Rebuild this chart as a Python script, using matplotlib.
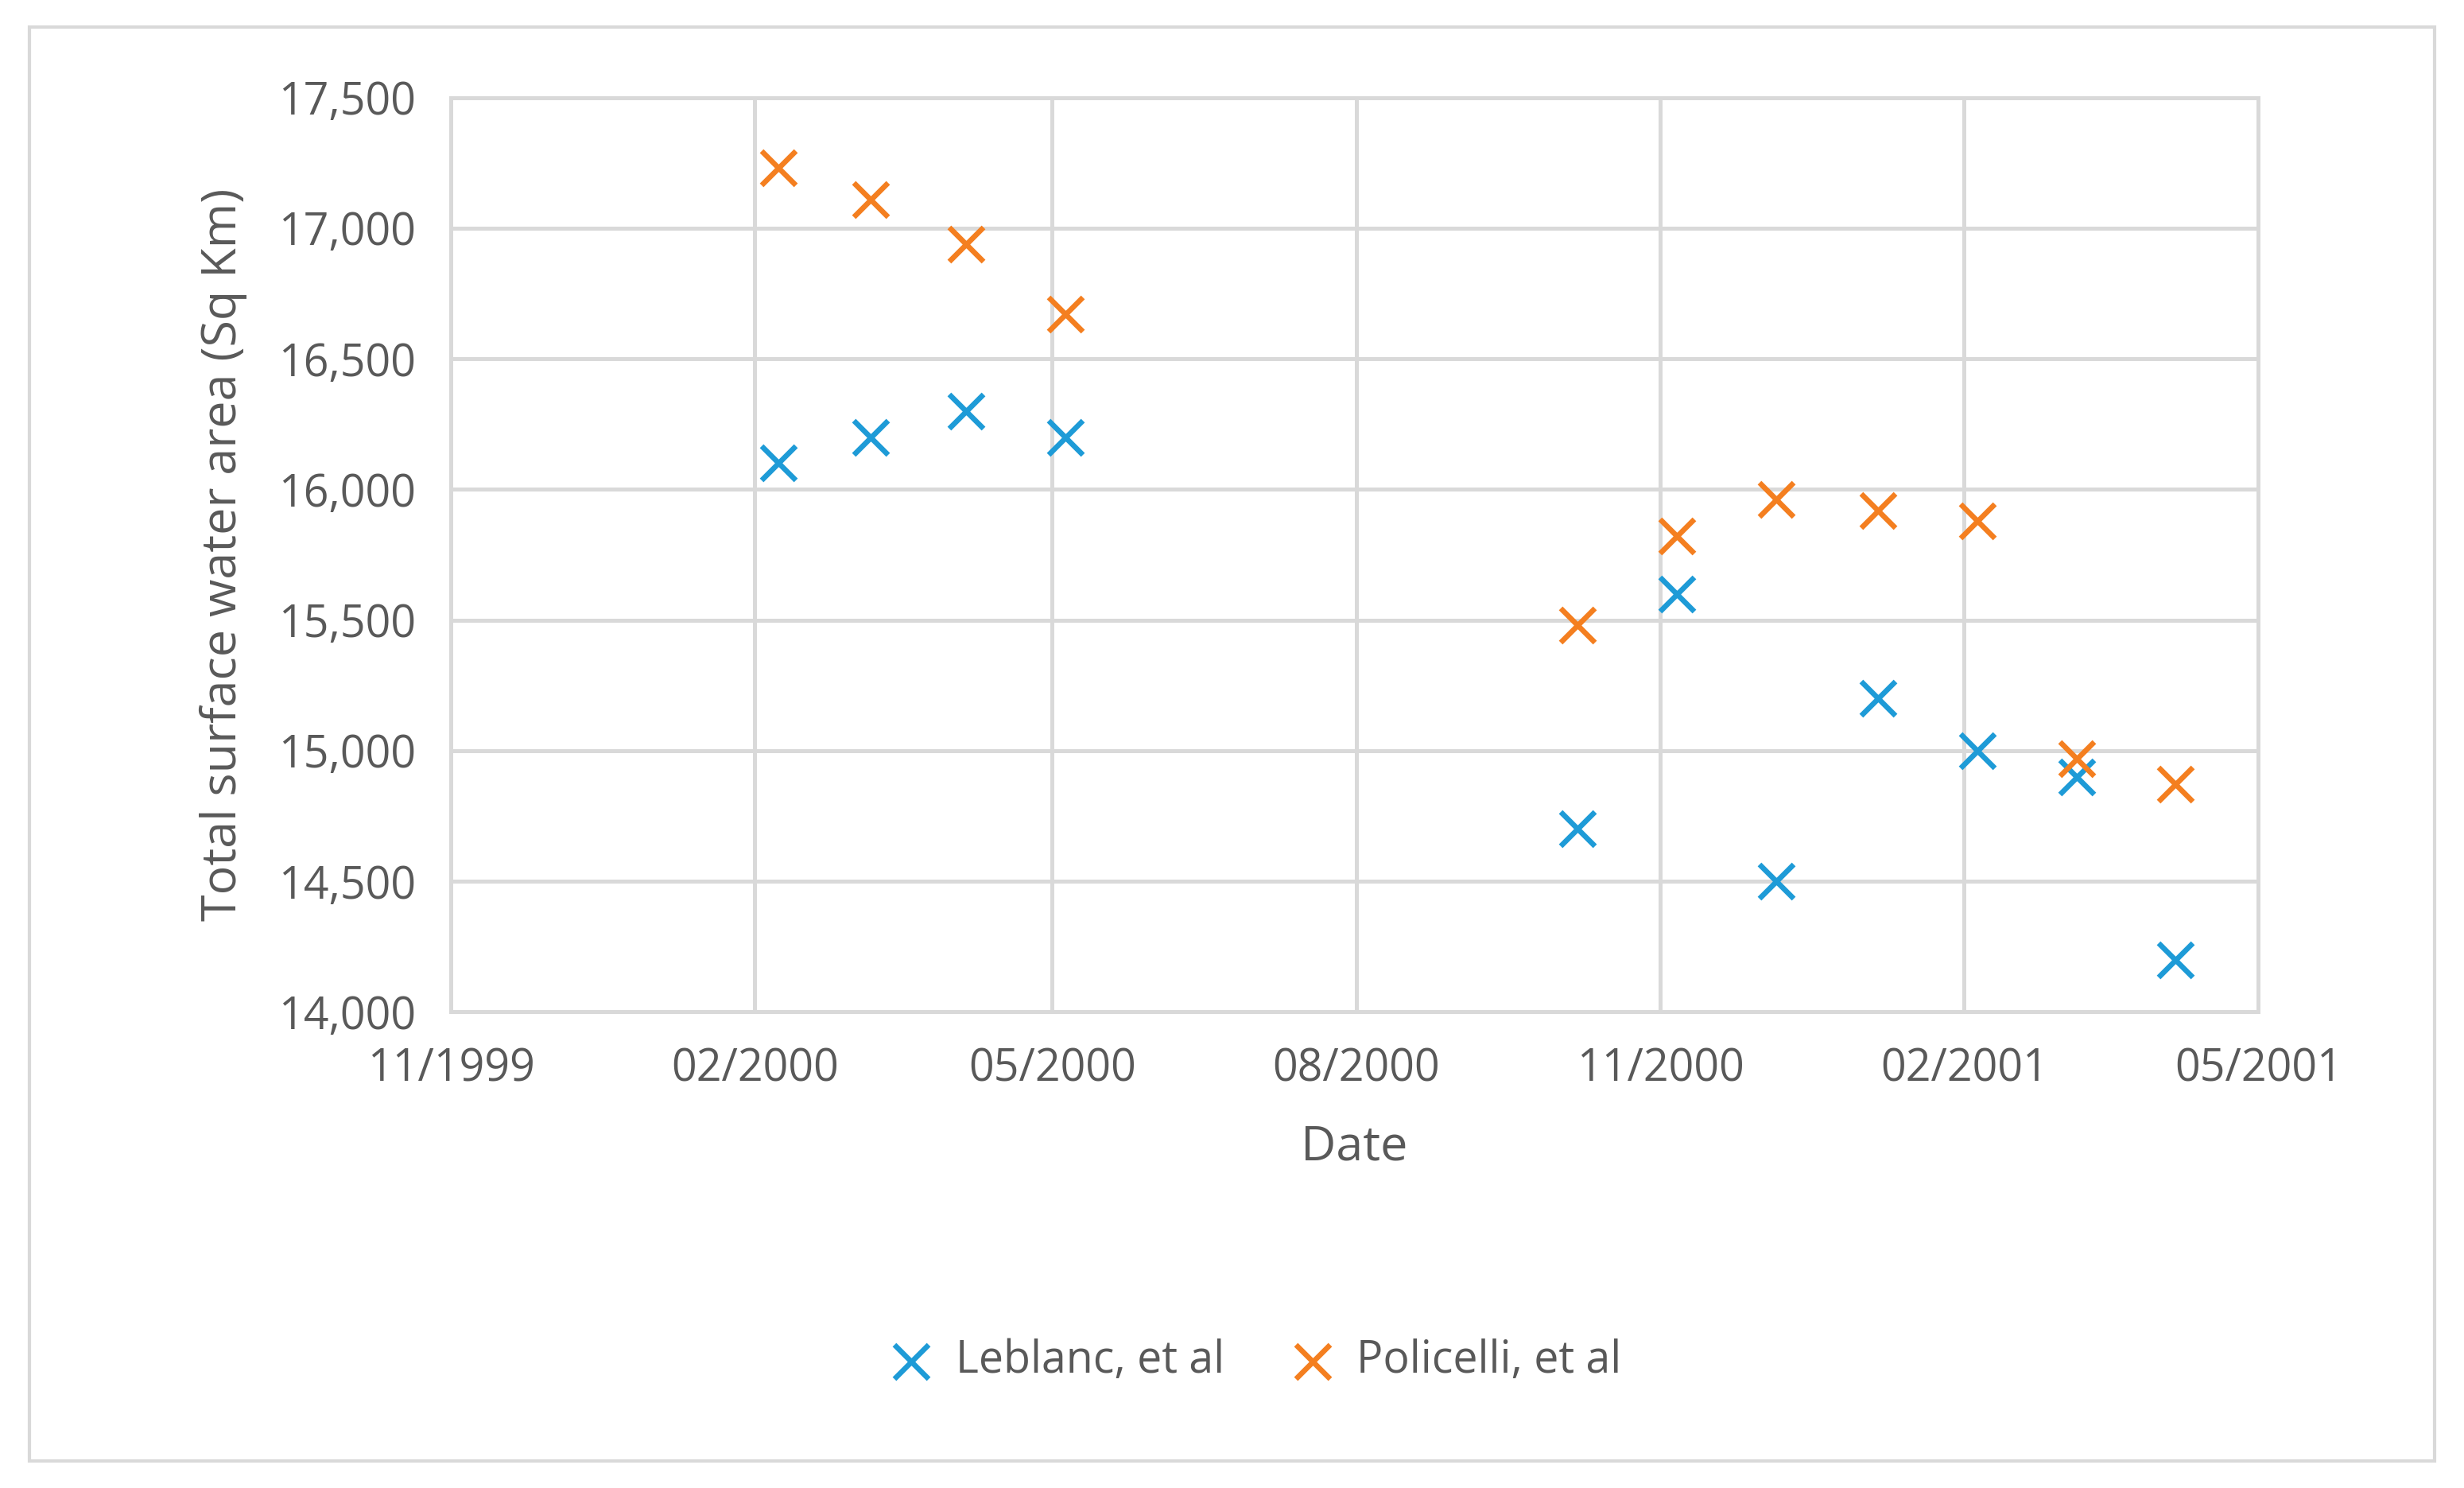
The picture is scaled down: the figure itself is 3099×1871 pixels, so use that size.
import matplotlib.pyplot as plt
import matplotlib.dates as mdates
from matplotlib.patches import Rectangle
import pandas as pd

plt.rcParams['font.family'] = ['Open Sans', 'DejaVu Sans']

leblanc_dates = ["2000-02-08", "2000-03-07", "2000-04-05", "2000-05-05", "2000-10-07",
                 "2000-11-06", "2000-12-06", "2001-01-06", "2001-02-05", "2001-03-07", "2001-04-06"]
leblanc_vals = [16100, 16200, 16300, 16200, 14700, 15600, 14500, 15200, 15000, 14900, 14200]
policelli_dates = leblanc_dates
policelli_vals = [17230, 17110, 16940, 16670, 15480, 15820, 15960, 15920, 15880, 14970, 14870]
tick_dates = ["1999-11-01", "2000-02-01", "2000-05-01", "2000-08-01", "2000-11-01", "2001-02-01", "2001-05-01"]

gray = "#595959"
fig = plt.figure(figsize=(15.495, 9.355), dpi=200)
fig.patches.append(Rectangle((0.012, 0.018), 0.976, 0.964, transform=fig.transFigure,
                             fill=False, edgecolor="#d9d9d9", linewidth=1.5))
ax = fig.add_axes([0.183, 0.320, 0.7335, 0.6145])

ax.scatter(pd.to_datetime(leblanc_dates), leblanc_vals, marker="x", s=240, linewidths=2.4,
           color="#1E9BD7", label="Leblanc, et al", zorder=3)
ax.scatter(pd.to_datetime(policelli_dates), policelli_vals, marker="x", s=240, linewidths=2.4,
           color="#F47F20", label="Policelli, et al", zorder=3)

ax.set_xlim(pd.Timestamp("1999-11-01"), pd.Timestamp("2001-05-01"))
ax.set_xticks(pd.to_datetime(tick_dates))
ax.xaxis.set_major_formatter(mdates.DateFormatter("%m/%Y"))
ax.set_ylim(14000, 17500)
ax.set_yticks(range(14000, 17501, 500))
ax.yaxis.set_major_formatter(plt.FuncFormatter(lambda v, p: f"{int(v):,}"))
ax.grid(True, color="#d9d9d9", linewidth=1.8)
ax.set_axisbelow(True)
for s in ax.spines.values():
    s.set_color("#d9d9d9")
    s.set_linewidth(1.8)
ax.tick_params(length=0, labelsize=20, colors=gray, pad=16)
ax.set_xlabel("Date", fontsize=22, color=gray, labelpad=14)
ax.set_ylabel("Total surface water area (Sq Km)", fontsize=22, color=gray, labelpad=14)

fig.legend(loc="center", bbox_to_anchor=(0.505, 0.085), ncol=2, frameon=False,
           fontsize=20, labelcolor=gray, handletextpad=0.0, columnspacing=1.0)

fig.savefig("out.png", dpi=200)
